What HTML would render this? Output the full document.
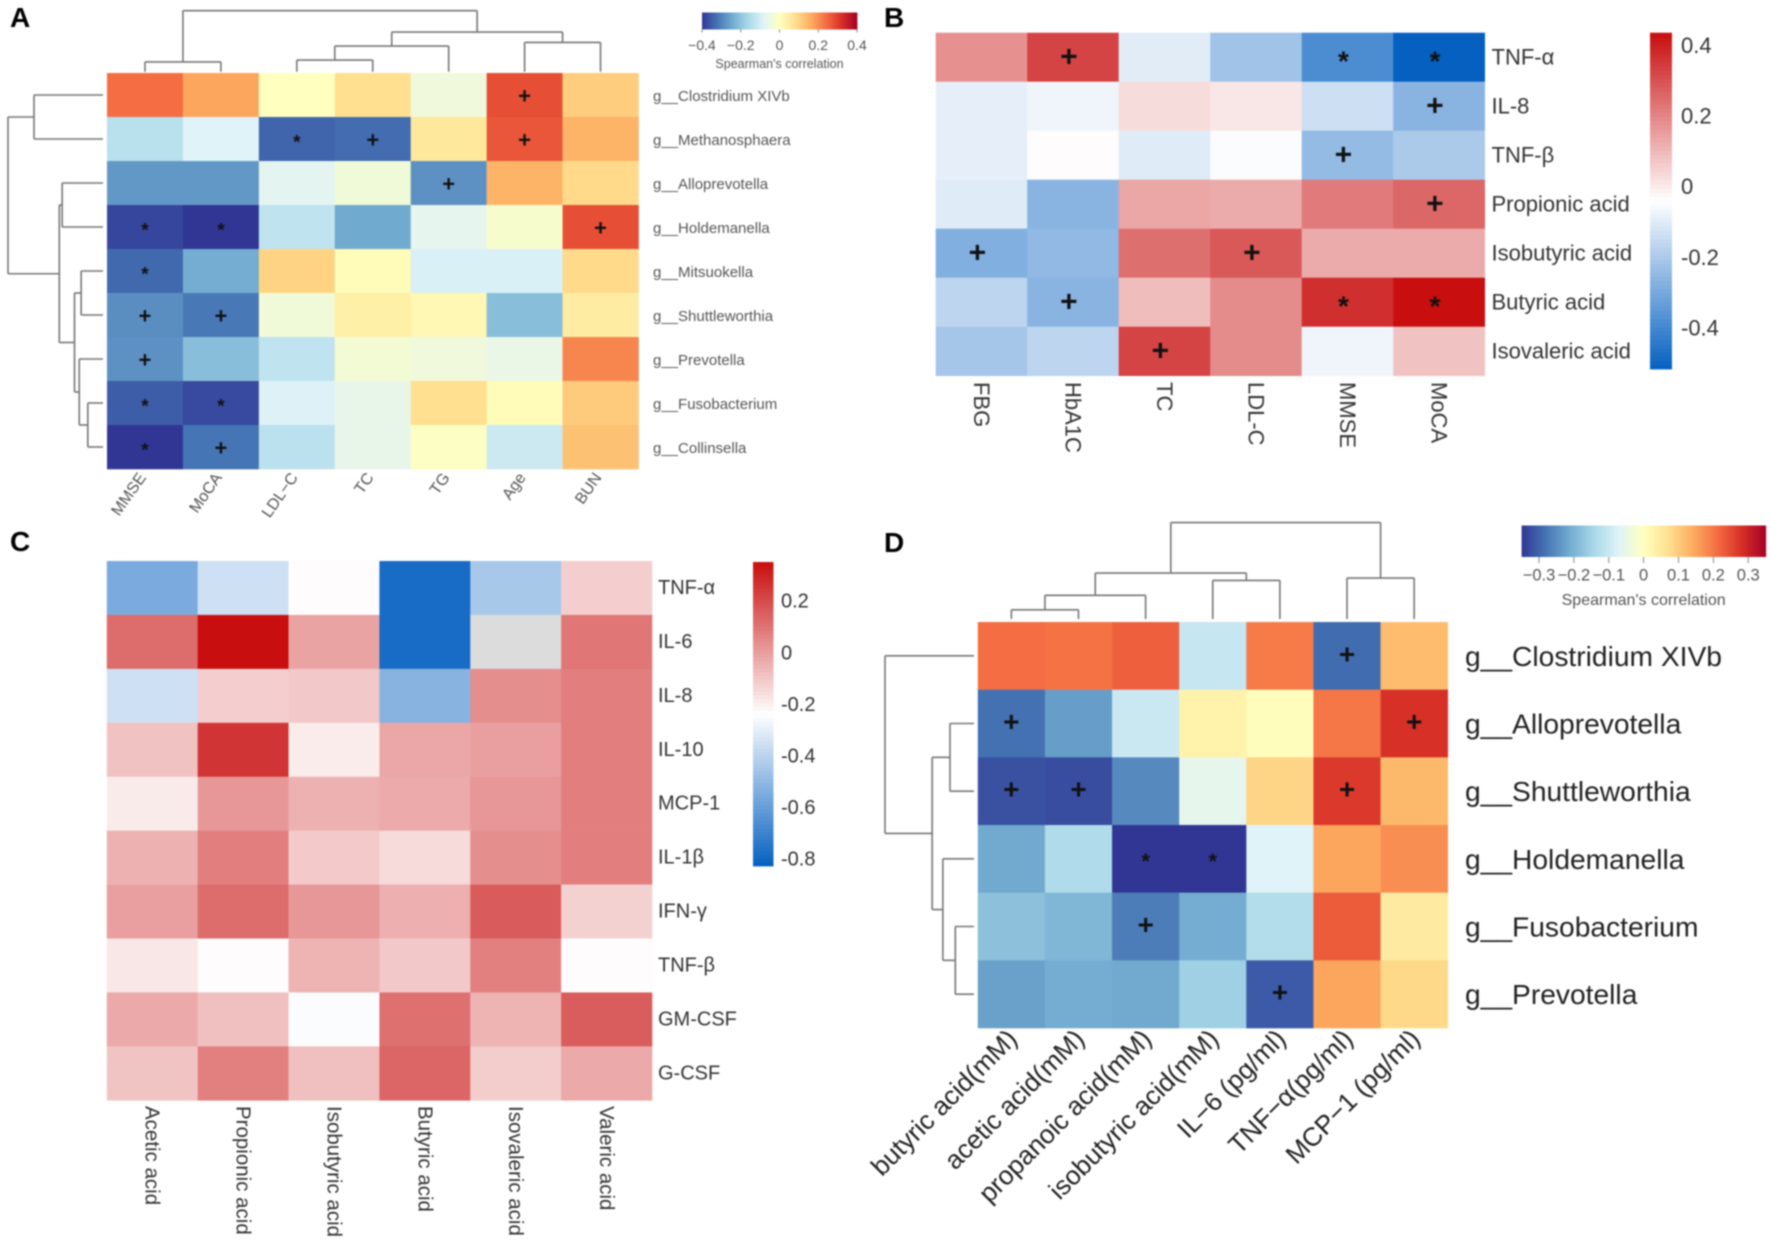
<!DOCTYPE html>
<html lang="en">
<head>
<meta charset="utf-8">
<title>Correlation heatmaps A–D</title>
<style>
html,body{margin:0;padding:0;background:#fff;width:1772px;height:1241px;overflow:hidden}
svg{display:block;filter:blur(.8px)}
text{font-family:"Liberation Sans",sans-serif}
</style>
</head>
<body>
<svg id="figure" xmlns="http://www.w3.org/2000/svg" width="1772" height="1241" viewBox="0 0 1772 1241">
  <rect width="1772" height="1241" fill="#fff"/>
  <text x="10" y="27" font-size="28" font-weight="bold" fill="#000">A</text>
  <text x="884" y="27" font-size="28" font-weight="bold" fill="#000">B</text>
  <text x="10" y="551" font-size="28" font-weight="bold" fill="#000">C</text>
  <text x="884" y="552" font-size="28" font-weight="bold" fill="#000">D</text>
</svg>
<script>
// ---------- Panel A data ----------
const aColumns = ['MMSE','MoCA','LDL−C','TC','TG','Age','BUN'];
const aRows = ['g__Clostridium XIVb','g__Methanosphaera','g__Alloprevotella','g__Holdemanella','g__Mitsuokella','g__Shuttleworthia','g__Prevotella','g__Fusobacterium','g__Collinsella'];
const aValues = [
  [0.24,0.17,0.0,0.08,-0.04,0.28,0.11],
  [-0.14,-0.08,-0.34,-0.33,0.06,0.27,0.15],
  [-0.27,-0.27,-0.07,-0.035,-0.28,0.15,0.09],
  [-0.38,-0.40,-0.13,-0.245,-0.065,-0.02,0.28],
  [-0.335,-0.24,0.10,0.01,-0.09,-0.09,0.09],
  [-0.285,-0.315,-0.035,0.04,0.02,-0.21,0.05],
  [-0.28,-0.21,-0.13,-0.03,-0.04,-0.055,0.21],
  [-0.35,-0.375,-0.085,-0.06,0.08,0.01,0.115],
  [-0.40,-0.32,-0.135,-0.06,-0.005,-0.11,0.13]
];
const aMarks = [
  ['','','','','','+',''],
  ['','','*','+','','+',''],
  ['','','','','+','',''],
  ['*','*','','','','','+'],
  ['*','','','','','',''],
  ['+','+','','','','',''],
  ['+','','','','','',''],
  ['*','*','','','','',''],
  ['*','+','','','','','']
];
const aTopTree = [[0,1,0.16],[[[2,3,0.19],4,0.42],[5,6,0.48],0.65],1];
const aLeftTree = [[0,1,0.726],[[2,3,0.43],[[4,5,0.23],[6,[7,8,0.16],0.25],0.30],0.46],1];
const aScaleMin = -0.4;
const aScaleMax = 0.4;
const aTicks = [-0.4,-0.2,0,0.2,0.4];
const aTickLabels = ['−0.4','−0.2','0','0.2','0.4'];

// ---------- Panel B data ----------
const bColumns = ['FBG','HbA1C','TC','LDL-C','MMSE','MoCA'];
const bRows = ['TNF-α','IL-8','TNF-β','Propionic acid','Isobutyric acid','Butyric acid','Isovaleric acid'];
const bValues = [
  [0.18,0.33,-0.097,-0.22,-0.38,-0.516],
  [-0.088,-0.07,0.03,0.008,-0.135,-0.265],
  [-0.088,-0.035,-0.10,-0.05,-0.245,-0.20],
  [-0.10,-0.265,0.135,0.125,0.22,0.26],
  [-0.28,-0.25,0.245,0.29,0.125,0.125],
  [-0.165,-0.265,0.09,0.19,0.37,0.436],
  [-0.21,-0.165,0.33,0.19,-0.07,0.08]
];
const bMarks = [
  ['','+','','','*','*'],
  ['','','','','','+'],
  ['','','','','+',''],
  ['','','','','','+'],
  ['+','','','+','',''],
  ['','+','','','*','*'],
  ['','','+','','','']
];
const bScaleMin = -0.516;
const bScaleMax = 0.436;
const bTicks = [0.4,0.2,0,-0.2,-0.4];
const bTickLabels = ['0.4','0.2','0','-0.2','-0.4'];

// ---------- Panel C data ----------
const cColumns = ['Acetic acid','Propionic acid','Isobutyric acid','Butyric acid','Isovaleric acid','Valeric acid'];
const cRows = ['TNF-α','IL-6','IL-8','IL-10','MCP-1','IL-1β','IFN-γ','TNF-β','GM-CSF','G-CSF'];
const cValues = [
  [-0.547,-0.35,-0.228,-0.78,-0.44,-0.116],
  [0.125,0.354,-0.01,-0.78,null,0.10],
  [-0.35,-0.116,-0.10,-0.517,0.04,0.08],
  [-0.086,0.26,-0.19,-0.02,0.0,0.08],
  [-0.187,0.02,-0.045,-0.027,0.02,0.08],
  [-0.045,0.08,-0.104,-0.145,0.04,0.08],
  [0.0,0.125,0.02,-0.04,0.165,-0.122],
  [-0.175,-0.228,-0.05,-0.10,0.075,-0.228],
  [-0.025,-0.08,-0.246,0.115,-0.05,0.16],
  [-0.09,0.075,-0.08,0.14,-0.11,-0.025]
];
const cScaleMin = -0.825;
const cScaleMax = 0.354;
const cTicks = [0.2,0,-0.2,-0.4,-0.6,-0.8];
const cTickLabels = ['0.2','0','-0.2','-0.4','-0.6','-0.8'];

// ---------- Panel D data ----------
const dColumns = ['butyric acid(mM)','acetic acid(mM)','propanoic acid(mM)','isobutyric acid(mM)','IL−6 (pg/ml)','TNF−α(pg/ml)','MCP−1 (pg/ml)'];
const dRows = ['g__Clostridium XIVb','g__Alloprevotella','g__Shuttleworthia','g__Holdemanella','g__Fusobacterium','g__Prevotella'];
const dValues = [
  [0.21,0.205,0.225,-0.105,0.195,-0.29,0.12],
  [-0.285,-0.23,-0.10,0.03,0.005,0.20,0.28],
  [-0.32,-0.325,-0.255,-0.055,0.085,0.27,0.125],
  [-0.215,-0.135,-0.35,-0.35,-0.07,0.15,0.175],
  [-0.18,-0.195,-0.27,-0.21,-0.13,0.23,0.045],
  [-0.225,-0.21,-0.215,-0.155,-0.31,0.15,0.08]
];
const dMarks = [
  ['','','','','','+',''],
  ['+','','','','','','+'],
  ['+','+','','','','+',''],
  ['','','*','*','','',''],
  ['','','+','','','',''],
  ['','','','','+','','']
];
const dTopTree = [[[[0,1,0.095],2,0.246],[3,4,0.40],0.477],[5,6,0.425],1];
const dLeftTree = [0,[[1,2,0.27],[3,[4,5,0.21],0.35],0.47],1];
const dScaleMin = -0.35;
const dScaleMax = 0.35;
const dTicks = [-0.3,-0.2,-0.1,0,0.1,0.2,0.3];
const dTickLabels = ['−0.3','−0.2','−0.1','0','0.1','0.2','0.3'];

// ---------- Colour scales ----------
const spectral = ['#313695','#4575b4','#74add1','#abd9e9','#e0f3f8','#ffffbf','#fee090','#fdae61','#f46d43','#d73027','#a50026'];
function hexToRgb(h){return [parseInt(h.slice(1,3),16),parseInt(h.slice(3,5),16),parseInt(h.slice(5,7),16)];}
function mix(a,b,t){
  const p=hexToRgb(a),q=hexToRgb(b);
  return 'rgb('+p.map((v,i)=>Math.round(v+(q[i]-v)*t)).join(',')+')';
}
function spectralScale(min,max){
  return function(v){
    if(v===null) return '#dcdcdc';
    const t=Math.max(0,Math.min(1,(v-min)/(max-min)))*(spectral.length-1);
    const i=Math.min(spectral.length-2,Math.floor(t));
    return mix(spectral[i],spectral[i+1],t-i);
  };
}
function blueRedScale(min,max){
  const mid=(min+max)/2;
  return function(v){
    if(v===null) return '#dcdcdc';
    if(v>=mid) return mix('#ffffff','#c80e0e',Math.min(1,(v-mid)/(max-mid)));
    return mix('#ffffff','#0560c0',Math.min(1,(mid-v)/(mid-min)));
  };
}

// ---------- Drawing helpers ----------
const svgNS='http://www.w3.org/2000/svg';
const root=document.getElementById('figure');
function node(tag,parent,props){
  const el=document.createElementNS(svgNS,tag);
  for(const k in props) el.setAttribute(k,props[k]);
  parent.appendChild(el);
  return el;
}
function makeGroup(name){
  const g=node('g',root,{});
  
  
  return g;
}
function slug(s){return s.toLowerCase().replace(/[^a-z0-9]+/g,'-').replace(/^-|-$/g,'');}

function drawHeatmap(g,cfg,columns,rows,values,marks,color){
  const cw=(cfg.x1-cfg.x0)/columns.length, ch=(cfg.y1-cfg.y0)/rows.length;
  const xBand=i=>cfg.x0+i*cw, yBand=i=>cfg.y0+i*ch;
  values.forEach((row,r)=>row.forEach((v,c)=>{
    const cell=node('rect',g,{x:xBand(c),y:yBand(r),width:cw+0.3,height:ch+0.3,fill:color(v)});
    
    
  }));
  if(marks) marks.forEach((row,r)=>row.forEach((m,c)=>{
    if(!m) return;
    const star=m==='*';
    const fs=star?cfg.starSize:cfg.plusSize;
    const t=node('text',g,{x:xBand(c)+cw/2+cfg.markDx,y:yBand(r)+ch/2+(star?cfg.starDy+fs*0.21:cfg.plusDy),'font-size':fs,'text-anchor':'middle','dominant-baseline':'central','font-weight':'bold',fill:'#111'});
    t.textContent=m;
    
    
  }));
  rows.forEach((label,r)=>{
    const t=node('text',g,{x:cfg.rowLabelX,y:yBand(r)+ch/2+cfg.rowDy,'font-size':cfg.rowFont,'dominant-baseline':'central',fill:cfg.textColor});
    t.textContent=label;
    
    
  });
  columns.forEach((label,c)=>{
    const cx=xBand(c)+cw/2+cfg.colDx;
    const rotated=cfg.colAngle<0;
    const t=node('text',g,{transform:'translate('+cx+','+cfg.colLabelY+') rotate('+cfg.colAngle+')','font-size':cfg.colFont,'text-anchor':rotated?'end':'start','dominant-baseline':'central',fill:cfg.textColor});
    t.textContent=label;
    
    
  });
}

// Dendrogram: node is a leaf index or [left,right,height]; height 0..1 maps base→root.
function drawDendrogram(g,tree,leafPos,heightPos,orient,name){
  const sub=node('g',g,{fill:'none',stroke:'#767676','stroke-width':1.6});
  
  
  function seg(a1,h1,a2,h2){
    const attrs=orient==='top'?{x1:a1,y1:h1,x2:a2,y2:h2}:{x1:h1,y1:a1,x2:h2,y2:a2};
    const l=node('line',sub,attrs);
    
    
  }
  function walk(n){
    if(typeof n==='number') return {a:leafPos(n),h:heightPos(0)};
    const L=walk(n[0]),R=walk(n[1]),h=heightPos(n[2]);
    seg(L.a,L.h,L.a,h);
    seg(R.a,R.h,R.a,h);
    seg(L.a,h,R.a,h);
    return {a:(L.a+R.a)/2,h:h};
  }
  walk(tree);
}

function drawColorbar(g,cfg,min,max,ticks,tickLabels,color){
  const steps=cfg.horizontal?120:80;
  const bar=node('g',g,{});
  
  
  for(let i=0;i<steps;i++){
    const f0=i/steps, val=min+(max-min)*(i+0.5)/steps;
    const props=cfg.horizontal
      ?{x:cfg.x0+f0*(cfg.x1-cfg.x0),y:cfg.y0,width:(cfg.x1-cfg.x0)/steps+0.4,height:cfg.y1-cfg.y0}
      :{x:cfg.x0,y:cfg.y1-(f0+1/steps)*(cfg.y1-cfg.y0),width:cfg.x1-cfg.x0,height:(cfg.y1-cfg.y0)/steps+0.4};
    props.fill=color(val);
    node('rect',bar,props);
  }
  const pos=v=>cfg.horizontal
    ?cfg.x0+(v-min)/(max-min)*(cfg.x1-cfg.x0)
    :cfg.y1-(v-min)/(max-min)*(cfg.y1-cfg.y0);
  ticks.forEach((v,i)=>{
    const p=pos(v);
    if(cfg.horizontal){
      const tick=node('line',g,{x1:p,x2:p,y1:cfg.y1,y2:cfg.y1+cfg.tickLen,stroke:'#888','stroke-width':1});
      
      
    }
    const t=node('text',g,cfg.horizontal
      ?{x:p,y:cfg.labelY,'font-size':cfg.font,'text-anchor':'middle','dominant-baseline':'central',fill:cfg.textColor}
      :{x:cfg.labelX,y:p,'font-size':cfg.font,'dominant-baseline':'central',fill:cfg.textColor});
    t.textContent=tickLabels[i];
    
    
  });
  if(cfg.title){
    const t=node('text',g,{x:(cfg.x0+cfg.x1)/2,y:cfg.titleY,'font-size':cfg.titleFont,'text-anchor':'middle','dominant-baseline':'central',fill:cfg.textColor});
    t.textContent=cfg.title;
    
    
  }
}

// ---------- Panel A ----------
(function(){
  const g=makeGroup('panel-a');
  const cfg={x0:107,x1:638.5,y0:73,y1:469,rowLabelX:653,rowDy:1.5,rowFont:15,colFont:16,colAngle:-55,colDx:-2,colLabelY:475,textColor:'#555',plusSize:22,starSize:19,markDx:0,plusDy:1,starDy:0};
  drawHeatmap(g,cfg,aColumns,aRows,aValues,aMarks,spectralScale(aScaleMin,aScaleMax));
  const cw=(cfg.x1-cfg.x0)/aColumns.length, ch=(cfg.y1-cfg.y0)/aRows.length;
  drawDendrogram(g,aTopTree,i=>cfg.x0+cw*(i+0.5),h=>71.7-h*61,'top','column-dendrogram');
  drawDendrogram(g,aLeftTree,i=>cfg.y0+ch*(i+0.5),h=>103-h*95,'left','row-dendrogram');
  drawColorbar(g,{horizontal:true,x0:702,x1:857,y0:12.5,y1:29.5,tickLen:3,labelY:45,font:14,textColor:'#555',title:"Spearman's correlation",titleY:64,titleFont:12.5},aScaleMin,aScaleMax,aTicks,aTickLabels,spectralScale(aScaleMin,aScaleMax));
})();

// ---------- Panel B ----------
(function(){
  const g=makeGroup('panel-b');
  const cfg={x0:935.7,x1:1484.7,y0:32.7,y1:375.7,rowLabelX:1491.5,rowDy:0,rowFont:22,colFont:22,colAngle:90,colDx:0,colLabelY:382,textColor:'#333',plusSize:30,starSize:28,markDx:-4,plusDy:0,starDy:-2};
  const color=blueRedScale(bScaleMin,bScaleMax);
  drawHeatmap(g,cfg,bColumns,bRows,bValues,bMarks,color);
  drawColorbar(g,{horizontal:false,x0:1650,x1:1672,y0:32.7,y1:369,labelX:1681,font:22,textColor:'#333'},bScaleMin,bScaleMax,bTicks,bTickLabels,color);
})();

// ---------- Panel C ----------
(function(){
  const g=makeGroup('panel-c');
  const cfg={x0:106.8,x1:652,y0:561,y1:1100.3,rowLabelX:658,rowDy:0,rowFont:20,colFont:20.5,colAngle:90,colDx:0,colLabelY:1106,textColor:'#333',plusSize:28,starSize:28,markDx:0,plusDy:0,starDy:0};
  const color=blueRedScale(cScaleMin,cScaleMax);
  drawHeatmap(g,cfg,cColumns,cRows,cValues,null,color);
  drawColorbar(g,{horizontal:false,x0:753,x1:773.5,y0:562,y1:866,labelX:781,font:20,textColor:'#333'},cScaleMin,cScaleMax,cTicks,cTickLabels,color);
})();

// ---------- Panel D ----------
(function(){
  const g=makeGroup('panel-d');
  const cfg={x0:977.8,x1:1447.7,y0:622,y1:1028,rowLabelX:1465,rowDy:0,rowFont:28.2,colFont:26.2,colAngle:-45,colDx:1,colLabelY:1034,textColor:'#222',plusSize:28,starSize:22,markDx:0,plusDy:-2,starDy:-2};
  drawHeatmap(g,cfg,dColumns,dRows,dValues,dMarks,spectralScale(dScaleMin,dScaleMax));
  const cw=(cfg.x1-cfg.x0)/dColumns.length, ch=(cfg.y1-cfg.y0)/dRows.length;
  drawDendrogram(g,dTopTree,i=>cfg.x0+cw*(i+0.5),h=>619-h*96.4,'top','column-dendrogram');
  drawDendrogram(g,dLeftTree,i=>cfg.y0+ch*(i+0.5),h=>974-h*89,'left','row-dendrogram');
  drawColorbar(g,{horizontal:true,x0:1521.6,x1:1765.7,y0:525.5,y1:557,tickLen:6,labelY:575.6,font:16.5,textColor:'#555',title:"Spearman's correlation",titleY:600.4,titleFont:16},dScaleMin,dScaleMax,dTicks,dTickLabels,spectralScale(dScaleMin,dScaleMax));
})();
</script>
</body>
</html>
